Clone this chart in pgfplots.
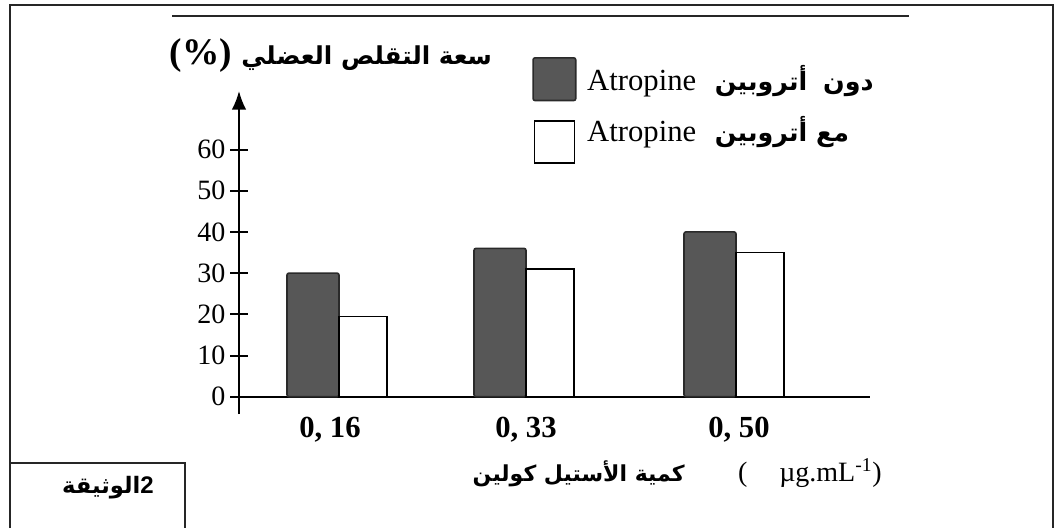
\documentclass[border=0pt]{standalone}
\usepackage{fontspec}
\setmainfont{Liberation Serif}
\newfontfamily\arabicfont[Script=Arabic]{DejaVu Sans}
\newfontfamily\sansfont{Liberation Sans}
\TeXXeTstate=1
\usepackage{pgfplots}
\pgfplotsset{compat=1.18}
\usetikzlibrary{arrows.meta}
\definecolor{barDark}{HTML}{575757}
\definecolor{barEdge}{HTML}{2A2A2A}

\begin{document}
\begin{tikzpicture}[x=0.75pt,y=0.75pt]
\path (0,0) rectangle (1059,528);
% outer frame
\draw[line width=1.5pt, black!85] (10,0) -- (10,523) -- (1053,523) -- (1053,0);
% inner top rule
\draw[line width=1.5pt, black!85] (172,512) -- (909,512);
% document box
\draw[line width=1.2pt, black!85] (10,65) -- (185,65) -- (185,0);
\node at (108,40) {\mbox{\arabicfont\bfseries\fontsize{17}{17}\selectfont\beginR الوثيقة\endR}\mbox{\sansfont\bfseries\fontsize{18}{18}\selectfont 2}};

\begin{axis}[
  at={(172.5pt,85.5pt)}, anchor=south west,
  scale only axis, width=480pt, height=242.25pt,
  xmin=-9, xmax=631, ymin=-4.2, ymax=74.2,
  axis lines=middle,
  axis line style={line width=1.5pt, black},
  x axis line style={-},
  y axis line style={-{Latex[length=14pt,width=11pt]}},
  ytick={0,10,20,30,40,50,60},
  xtick={91,287,500},
  xticklabels={{0, 16},{0, 33},{0, 50}},
  tick align=center,
  major tick length=13.5pt,
  tick style={line width=1.5pt, black},
  major x tick style={draw=none},
  hide obscured x ticks=false, hide obscured y ticks=false,
  /pgf/number format/assume math mode=true,
  yticklabel style={font=\fontsize{21}{21}\selectfont},
  xticklabel style={font=\bfseries\fontsize{23}{23}\selectfont, yshift=-5pt},
  clip=false,
  every axis y label/.style={at={(axis cs:92,82.7)}, anchor=center},
  ylabel={{\bfseries\fontsize{28}{28}\selectfont (\%)}\hspace{7pt}{\arabicfont\bfseries\fontsize{18.5}{18.5}\selectfont\beginR سعة التقلص العضلي\endR}},
  every axis x label/.style={at={(axis cs:229,-18.5)}, anchor=west},
  xlabel={{\arabicfont\bfseries\fontsize{16.5}{16.5}\selectfont\beginR كمية الأستيل كولين\endR}\hspace{40pt}{\fontsize{21}{21}\selectfont (\hspace{24pt}µg.mL\textsuperscript{-1})}},
  legend style={draw=none, fill=none, at={(axis cs:293,82.5)}, anchor=north west,
    inner sep=0pt, row sep=9pt, font=\fontsize{23}{23}\selectfont,
    /tikz/every even column/.append style={column sep=4pt}},
  legend cell align=left,
]
\addplot[ybar, bar width=52, bar shift=0pt, fill=barDark, draw=barEdge, line width=1.2pt, rounded corners=1.5pt,
  legend image code/.code={\draw[fill=barDark, draw=barEdge, line width=1.2pt, rounded corners=1.5pt] (0pt,-16pt) rectangle (32pt,16pt);}]
  coordinates {(74,30) (261,36) (471,40)};
\addlegendentry{\hspace{6pt}Atropine\hspace{14pt}{\arabicfont\bfseries\fontsize{19}{19}\selectfont\beginR دون\hspace{12pt}أتروبين\endR}}
\addplot[ybar, bar width=48, bar shift=0pt, fill=white, draw=black, line width=1.2pt,
  legend image code/.code={\draw[fill=white, draw=black, line width=1.2pt] (1pt,-25pt) rectangle (31pt,6.5pt);}]
  coordinates {(124,19.5) (311,31) (521,35)};
\addlegendentry{\hspace{6pt}Atropine\hspace{14pt}{\arabicfont\bfseries\fontsize{19}{19}\selectfont\beginR مع أتروبين\endR}}
\end{axis}
\end{tikzpicture}
\end{document}
